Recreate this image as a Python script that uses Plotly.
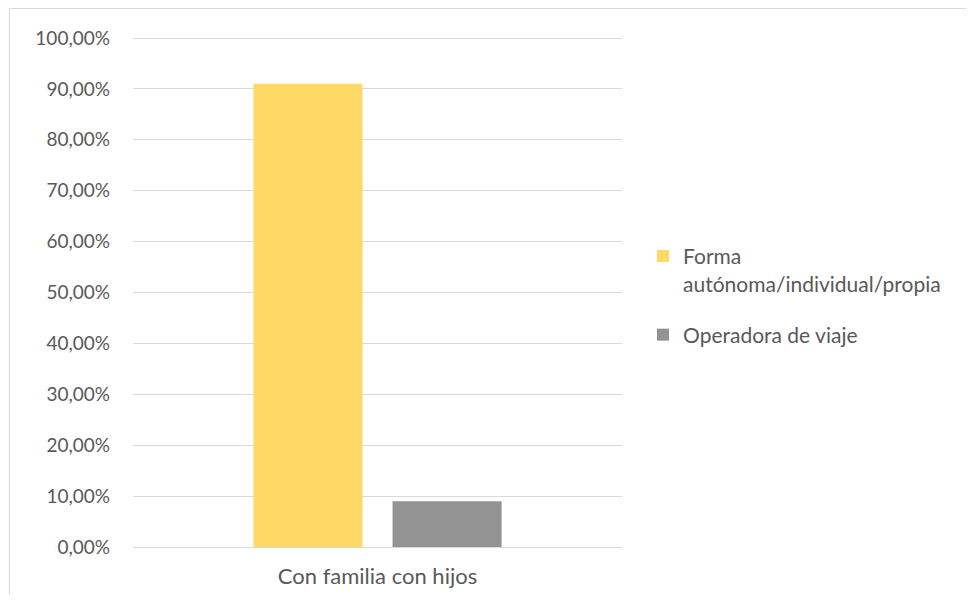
import plotly.graph_objects as go

categories = ["Con familia con hijos"]
series_names = ["Forma<br>autónoma/individual/propia", "Operadora de viaje"]
autonoma = [0.91]
operadora = [0.09]
tick_vals = [0, 0.1, 0.2, 0.3, 0.4, 0.5, 0.6, 0.7, 0.8, 0.9, 1.0]
tick_text = ["0,00%", "10,00%", "20,00%", "30,00%", "40,00%", "50,00%",
             "60,00%", "70,00%", "80,00%", "90,00%", "100,00%"]

font_family = "Lato, Open Sans, sans-serif"
text_color = "#595959"

fig = go.Figure()
fig.add_trace(go.Bar(x=categories, y=autonoma, name=series_names[0],
                     legendgroup="g1",
                     marker=dict(color="#FFD966", line=dict(width=0))))
fig.add_trace(go.Bar(x=categories, y=operadora, name=series_names[1],
                     legendgroup="g2",
                     marker=dict(color="#939393", line=dict(width=0))))

W, H = 958, 587
L, T, R, B = 125, 29, 344, 48
PW, PH = W - L - R, H - T - B

fig.update_layout(
    width=W, height=H,
    margin=dict(l=L, r=R, t=T, b=B, autoexpand=False),
    paper_bgcolor="white", plot_bgcolor="white",
    barmode="group", bargap=0.431, bargroupgap=0.216,
    font=dict(family=font_family, color=text_color, size=19),
    legend=dict(x=1.043, y=0.61, xanchor="left", yanchor="top",
                font=dict(size=21, color=text_color), valign="top",
                itemwidth=30, tracegroupgap=21, bgcolor="rgba(0,0,0,0)"),
    showlegend=True,
    xaxis=dict(showgrid=False, showline=True, linecolor="#d9d9d9", linewidth=1,
               ticks="", tickfont=dict(size=22, color=text_color),
               ticklabelstandoff=10, automargin=False),
    yaxis=dict(range=[0, 1.002], tickvals=tick_vals, ticktext=tick_text,
               showgrid=True, gridcolor="#d9d9d9", gridwidth=1,
               zeroline=False, showline=False, ticks="",
               tickfont=dict(size=19, color=text_color),
               ticklabelstandoff=22, automargin=False),
    shapes=[
        dict(type="line", xref="paper", yref="paper",
             x0=(1.5 - L) / PW, x1=(1.5 - L) / PW,
             y0=-(B + 20) / PH, y1=1 + (T - 0.5) / PH,
             line=dict(color="#d9d9d9", width=1), layer="below"),
        dict(type="line", xref="paper", yref="paper",
             x0=(1.5 - L) / PW, x1=(1000 - L) / PW,
             y0=1 + (T - 0.5) / PH, y1=1 + (T - 0.5) / PH,
             line=dict(color="#d9d9d9", width=1), layer="below"),
    ],
)

fig.write_html("out.html")
